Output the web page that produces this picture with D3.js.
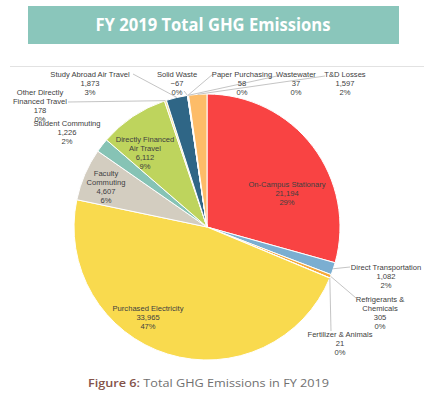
<!DOCTYPE html>
<html>
<head>
<meta charset="utf-8">
<script src="https://cdn.jsdelivr.net/npm/d3@7"></script>
<style>
  html, body { margin: 0; padding: 0; background: #fff; }
  svg { display: block; }
</style>
</head>
<body>
<div id="chart"></div>
<script>
var width = 430;
var height = 397;

// emission sources, clockwise from 12 o'clock
var sources = ["On-Campus Stationary", "Direct Transportation", "Refrigerants & Chemicals",
               "Fertilizer & Animals", "Purchased Electricity", "Faculty Commuting",
               "Student Commuting", "Directly Financed Air Travel", "Other Directly Financed Travel",
               "Study Abroad Air Travel", "Solid Waste", "Paper Purchasing", "Wastewater", "T&D Losses"];
var emissions = [21194, 1082, 305, 21, 33965, 4607, 1226, 6112, 178, 1873, -67, 58, 37, 1597];
// shares as printed on the chart
var shares = [29, 2, 0, 0, 47, 6, 2, 9, 0, 3, 0, 0, 0, 2];
var colors = ["#f94343", "#7baed1", "#f6a93a", "#f3c96a", "#f9da4e", "#d3cdc0",
              "#86c3b5", "#bed45d", "#f4de8a", "#2f6686", "#cfd8dc", "#e9e9e9", "#dddddd", "#fdbc68"];

// how each label is broken into lines
var labelLines = {
  "Refrigerants & Chemicals": ["Refrigerants &", "Chemicals"],
  "Purchased Electricity": ["Purchased Electricity"],
  "Faculty Commuting": ["Faculty", "Commuting"],
  "Directly Financed Air Travel": ["Directly Financed", "Air Travel"],
  "Other Directly Financed Travel": ["Other Directly", "Financed Travel"]
};

// hand placed label spots (x, y of first line) and leader start points
var labelPos = {
  "On-Campus Stationary": {x: 287, y: 187},
  "Direct Transportation": {x: 386, y: 270, lx: 350, ly: 267},
  "Refrigerants & Chemicals": {x: 380, y: 302, lx: 356, ly: 298},
  "Fertilizer & Animals": {x: 340, y: 337, lx: 331, ly: 331},
  "Purchased Electricity": {x: 148, y: 311},
  "Faculty Commuting": {x: 106, y: 176},
  "Student Commuting": {x: 67, y: 126},
  "Directly Financed Air Travel": {x: 145, y: 142},
  "Other Directly Financed Travel": {x: 40, y: 95, lx: 68, ly: 102},
  "Study Abroad Air Travel": {x: 90, y: 77, lx: 133, ly: 74},
  "Solid Waste": {x: 177, y: 77, lx: 184, ly: 91},
  "Paper Purchasing": {x: 242, y: 77, lx: 213, ly: 74},
  "Wastewater": {x: 296, y: 77, lx: 277, ly: 76},
  "T&D Losses": {x: 345, y: 77, lx: 325, ly: 76}
};

var rows = sources.map(function(s, i) {
    return {name: s, value: emissions[i], share: shares[i], color: colors[i]};
});

var cx = 207, cy = 227, radius = 133;

var svg = d3.select("#chart")
    .append("svg")
    .attr("width", width)
    .attr("height", height);

// title banner
svg.append("rect")
    .attr("x", 28).attr("y", 6)
    .attr("width", 371).attr("height", 38)
    .attr("fill", "#8ac6bb");

svg.append("text")
    .attr("x", 213).attr("y", 31)
    .attr("text-anchor", "middle")
    .attr("fill", "#fff")
    .attr("font-family", "'Open Sans', sans-serif")
    .attr("font-weight", 700)
    .attr("font-size", 17)
    .attr("textLength", 235)
    .attr("lengthAdjust", "spacingAndGlyphs")
    .text("FY 2019 Total GHG Emissions");

// chart frame top line
svg.append("line")
    .attr("x1", 10).attr("x2", 424)
    .attr("y1", 66.5).attr("y2", 66.5)
    .attr("stroke", "#e2e2e2");

var pie = d3.pie()
    .sort(null)
    .value(function(d) { return Math.max(0, d.value); });

var arc = d3.arc().innerRadius(0).outerRadius(radius);
var arcs = pie(rows);

var g = svg.append("g").attr("transform", "translate(" + cx + "," + cy + ")");

g.selectAll("path")
    .data(arcs)
    .enter()
    .append("path")
    .attr("d", arc)
    .attr("fill", function(d) { return d.data.color; })
    .attr("stroke", "#fff")
    .attr("stroke-width", 1);

// leader lines
function edgePoint(d) {
    var a = (d.startAngle + d.endAngle) / 2;
    return [cx + radius * Math.sin(a), cy - radius * Math.cos(a)];
}

svg.selectAll("line.leader")
    .data(arcs.filter(function(d) { return labelPos[d.data.name].lx !== undefined; }))
    .enter()
    .append("line")
    .attr("class", "leader")
    .attr("x1", function(d) { return labelPos[d.data.name].lx; })
    .attr("y1", function(d) { return labelPos[d.data.name].ly; })
    .attr("x2", function(d) { return edgePoint(d)[0]; })
    .attr("y2", function(d) { return edgePoint(d)[1]; })
    .attr("stroke", "#b5b5b5")
    .attr("stroke-width", 0.8);

var num = d3.format(",");

var labels = svg.selectAll("text.lbl")
    .data(arcs)
    .enter()
    .append("text")
    .attr("class", "lbl")
    .attr("text-anchor", "middle")
    .attr("font-family", "'Liberation Sans', Arial, sans-serif")
    .attr("font-size", 7.6)
    .attr("fill", "#404040");

labels.each(function(d) {
    var p = labelPos[d.data.name];
    var lines = (labelLines[d.data.name] || [d.data.name])
        .concat([num(d.data.value), d.data.share + "%"]);
    d3.select(this).selectAll("tspan")
        .data(lines)
        .enter()
        .append("tspan")
        .attr("x", p.x)
        .attr("y", function(t, i) { return p.y + i * 9; })
        .text(function(t) { return t; });
});

// caption
var cap = svg.append("text")
    .attr("x", 88).attr("y", 387)
    .attr("font-family", "'Open Sans', sans-serif")
    .attr("font-size", 11)
    .attr("textLength", 241)
    .attr("lengthAdjust", "spacingAndGlyphs");
cap.append("tspan").attr("fill", "#84524a").attr("font-weight", 600).text("Figure 6: ");
cap.append("tspan").attr("fill", "#707070").text("Total GHG Emissions in FY 2019");
</script>
</body>
</html>
